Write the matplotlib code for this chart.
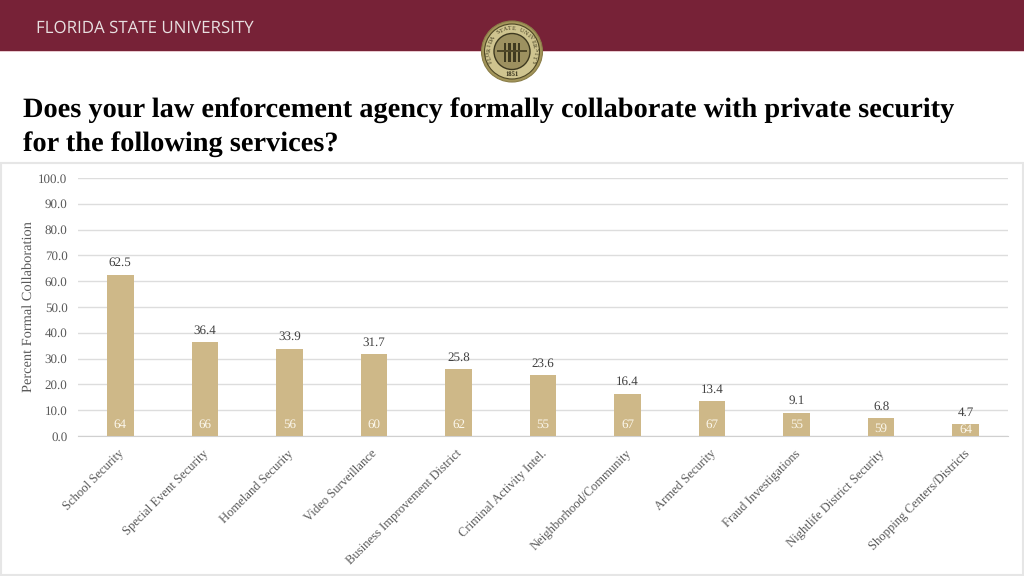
import math
import matplotlib
matplotlib.use('Agg')
import matplotlib.pyplot as plt
from matplotlib.patches import Circle, Rectangle
from matplotlib.transforms import ScaledTranslation

services = ['School Security', 'Special Event Security', 'Homeland Security', 'Video Surveillance',
            'Business Improvement District', 'Criminal Activity Intel.', 'Neighborhood/Community',
            'Armed Security', 'Fraud Investigations', 'Nightlife District Security',
            'Shopping Centers/Districts']
percent = [62.5, 36.4, 33.9, 31.7, 25.8, 23.6, 16.4, 13.4, 9.1, 6.8, 4.7]
n_resp = [64, 66, 56, 60, 62, 55, 67, 67, 55, 59, 64]
y_ticks = [0, 10, 20, 30, 40, 50, 60, 70, 80, 90, 100]

W, H = 1024, 576
MAROON = '#772237'
TAN = '#ceb888'
GREY = '#595959'

plt.rcParams['font.family'] = ['Liberation Serif', 'DejaVu Serif']
plt.rcParams['text.hinting'] = 'no_hinting'

fig = plt.figure(figsize=(W / 100, H / 100), dpi=100, facecolor='white')

# full figure overlay in pixel coordinates, y going down
bg = fig.add_axes([0, 0, 1, 1])
bg.set_xlim(0, W)
bg.set_ylim(H, 0)
bg.axis('off')

bg.add_patch(Rectangle((0, 0), W, 51, color=MAROON, lw=0))
bg.add_patch(Rectangle((0, 51), W, 1, color='#e8c9cf', lw=0))
bg.add_patch(Rectangle((0.5, 163), W - 1.5, H - 164, fc='white', ec='#e6e6e6', lw=1.5))
bg.text(36, 28, 'FLORIDA STATE UNIVERSITY', color='#e8dfe0', fontsize=12.15,
        family='Open Sans', va='center', ha='left')

# seal
cx, cy = 512, 51.5
bg.add_patch(Circle((cx, cy), 30.5, fc='#a3955a', ec='#8a7d48', lw=0.8))
bg.add_patch(Circle((cx, cy), 27.5, fc='#cfc48f', ec='#4f4726', lw=0.8))
bg.add_patch(Circle((cx, cy), 18, fc='#9d9160', ec='#3e3920', lw=1))
for dx in [-7, -2.5, 2.5, 7]:
    bg.add_patch(Rectangle((cx + dx - 1.2, cy - 9), 2.4, 19, fc='#3f3a20', lw=0))
bg.add_patch(Rectangle((cx - 15, cy - 2), 30, 2, fc='#4f4828', lw=0))
seal_text = 'FLORIDA STATE UNIVERSITY'
for i, ch in enumerate(seal_text):
    ang = math.radians(205 - i * 230 / (len(seal_text) - 1))
    bg.text(cx + 23 * math.cos(ang), cy - 23 * math.sin(ang), ch, fontsize=4.3, color='#3a351b',
            ha='center', va='center', rotation=math.degrees(ang) - 90)
bg.text(cx, cy + 23, '1851', color='#2e2a16', fontsize=4.8, ha='center', va='center', weight='bold')

bg.text(23, 110, 'Does your law enforcement agency formally collaborate with private security',
        fontsize=20.45, weight='bold', color='black', va='center', ha='left')
bg.text(23, 144.5, 'for the following services?',
        fontsize=20.45, weight='bold', color='black', va='center', ha='left')

# chart area
ax = fig.add_axes([78 / W, 1 - 436 / H, 930 / W, 258 / H], facecolor='none')
x = list(range(len(services)))
bars = ax.bar(x, percent, width=0.315, color=TAN, zorder=3)

for i in x:
    ax.text(i, percent[i] + 2.2, '%.1f' % percent[i], ha='center', va='bottom',
            fontsize=9.4, color='#404040', zorder=4)
    # short bars push the count label down
    count_y = 4.4 if percent[i] > 8 else 1.4 + 0.19 * percent[i]
    ax.text(i, count_y, str(n_resp[i]), ha='center', va='center', fontsize=9.4,
            color='#fbf7ec', zorder=4)

ax.set_xlim(-0.5, len(services) - 0.5)
ax.set_ylim(0, 100)
ax.set_yticks(y_ticks)
ax.set_yticklabels(['%.1f' % t for t in y_ticks], fontsize=9.4, color=GREY)
ax.set_xticks(x)
ax.set_xticklabels(services, rotation=45, ha='right', va='top', rotation_mode='anchor',
                   fontsize=9.05, color=GREY)
ax.tick_params(axis='both', length=0)
ax.tick_params(axis='y', pad=7.5)
ax.tick_params(axis='x', pad=8)
shift = ScaledTranslation(-3 / 100, 0, fig.dpi_scale_trans)
for lab in ax.get_xticklabels():
    lab.set_transform(lab.get_transform() + shift)
ax.grid(axis='y', color='#dddddd', lw=1, zorder=0)
ax.set_axisbelow(True)
for side in ['top', 'right', 'left']:
    ax.spines[side].set_visible(False)
ax.spines['bottom'].set_color('#d0d0d0')
ax.set_ylabel('Percent Formal Collaboration', fontsize=10.35, color=GREY)
ax.yaxis.set_label_coords((35 - 78) / 930, (436 - 307) / 258)

fig.savefig('out.png', dpi=100)
